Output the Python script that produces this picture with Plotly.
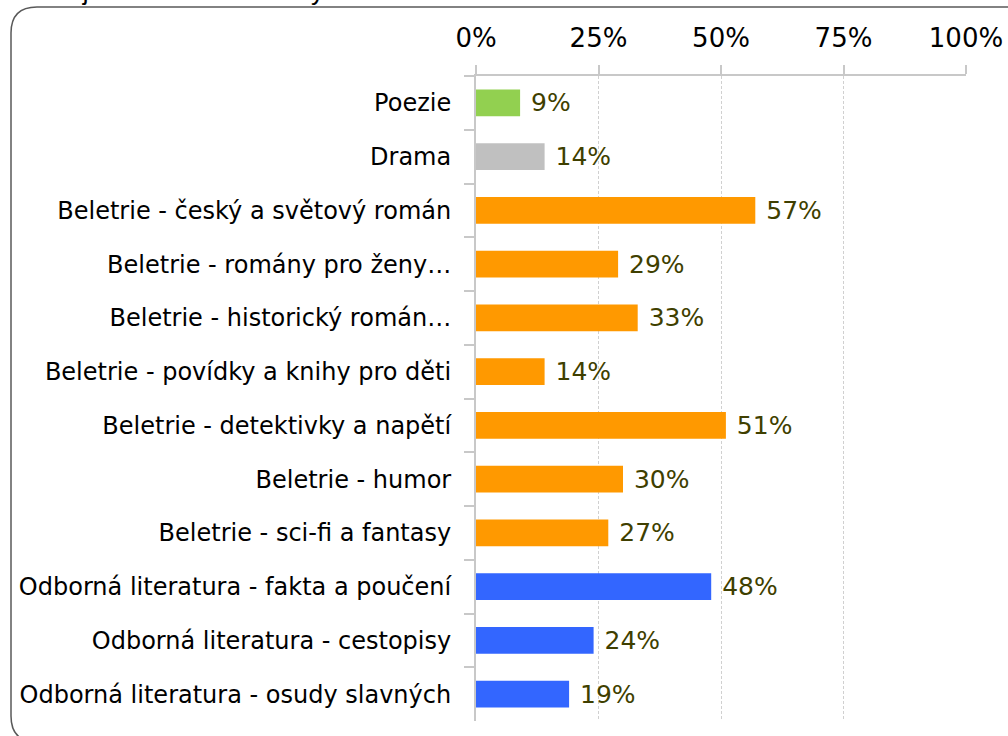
import plotly.graph_objects as go

# categories top to bottom as in the chart
categories = [
    "Poezie",
    "Drama",
    "Beletrie - český a světový román",
    "Beletrie - romány pro ženy…",
    "Beletrie - historický román…",
    "Beletrie - povídky a knihy pro děti",
    "Beletrie - detektivky a napětí",
    "Beletrie - humor",
    "Beletrie - sci-fi a fantasy",
    "Odborná literatura - fakta a poučení",
    "Odborná literatura - cestopisy",
    "Odborná literatura - osudy slavných",
]
values = [9, 14, 57, 29, 33, 14, 51, 30, 27, 48, 24, 19]
groups = ["poezie", "drama"] + ["beletrie"] * 7 + ["odborna"] * 3
group_colors = {"poezie": "#92D050", "drama": "#C0C0C0",
                "beletrie": "#FF9900", "odborna": "#3366FF"}
tick_vals = [0, 25, 50, 75, 100]
tick_text = ["0%", "25%", "50%", "75%", "100%"]

W, H = 1008, 736
L, R, T, B = 476, 42, 76, 15
pw, ph = W - L - R, H - T - B


def px(x):
    return (x - L) / pw


def py(y):
    return (H - B - y) / ph


fig = go.Figure()
fig.add_trace(go.Bar(
    x=values, y=categories, orientation="h",
    marker=dict(color=[group_colors[g] for g in groups], line=dict(width=0)),
    width=0.5,
    text=[f" {v}%" for v in values], textposition="outside",
    constraintext="none",
    textfont=dict(family="DejaVu Sans", size=25, color="#3F3F00"),
    cliponaxis=False, showlegend=False, hoverinfo="skip",
))

# rounded frame, partly cut off by the page edges
r = 26
x0, y0, y1 = 11, 7, 742
path = (f"M {px(1020)},{py(y0)} L {px(x0 + r)},{py(y0)} "
        f"Q {px(x0)},{py(y0)} {px(x0)},{py(y0 + r)} "
        f"L {px(x0)},{py(y1 - r)} Q {px(x0)},{py(y1)} {px(x0 + r)},{py(y1)} "
        f"L {px(1020)},{py(y1)}")
fig.add_shape(type="path", xref="paper", yref="paper", path=path,
              line=dict(color="#595959", width=1.5), layer="below")

# title, mostly cut off at top of the page
fig.add_annotation(text="13. Zájem ve formě e-knihy:", xref="paper", yref="paper",
                   x=px(333), y=py(8), xanchor="right", yanchor="bottom",
                   showarrow=False,
                   font=dict(family="Liberation Sans", size=26, color="#000000"))

fig.update_layout(
    width=W, height=H,
    margin=dict(l=L, r=R, t=T, b=B, autoexpand=False),
    plot_bgcolor="white", paper_bgcolor="white",
    bargap=0.5,
    xaxis=dict(side="top", range=[0, 100], tickvals=tick_vals, ticktext=tick_text,
               showgrid=True, gridcolor="#D0D0D0", griddash="3px,2px", gridwidth=1,
               showline=True, linecolor="#C8C8C8", linewidth=2,
               ticks="outside", ticklen=9, tickcolor="#C8C8C8", tickwidth=2,
               ticklabelstandoff=8, zeroline=False, automargin=False,
               tickfont=dict(family="DejaVu Sans", size=26, color="#000000")),
    yaxis=dict(autorange="reversed", type="category",
               showline=True, linecolor="#C8C8C8", linewidth=2,
               ticks="outside", tickson="boundaries", ticklen=10,
               tickcolor="#C8C8C8", tickwidth=2, showgrid=False,
               ticklabelstandoff=18, automargin=False,
               tickfont=dict(family="DejaVu Sans", size=24, color="#000000")),
)

fig.write_html("out.html", config={"displayModeBar": False},
               post_script="document.body.style.margin='0';"
                           "document.body.style.overflow='hidden';")
